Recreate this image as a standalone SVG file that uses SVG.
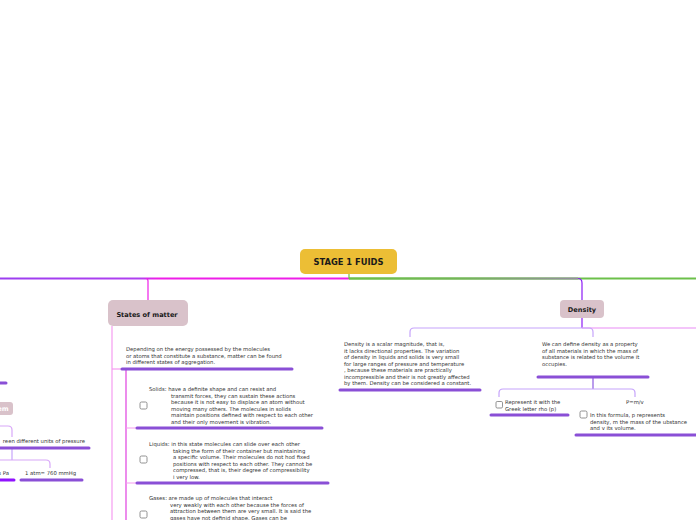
<svg xmlns="http://www.w3.org/2000/svg" width="696" height="520" viewBox="0 0 696 520">
<style>
.t{font-family:"DejaVu Sans",Verdana,sans-serif;font-size:5.3px;fill:#333}
.b{font-family:"DejaVu Sans",Verdana,sans-serif;font-weight:bold;fill:#1a1a1a;text-anchor:middle}
.u{stroke:#8a4fd6;stroke-width:3;stroke-linecap:round;fill:none}
.c{fill:none;stroke-width:1.2}
.cb{fill:#fff;stroke:#777;stroke-width:0.8}
.sub{fill:#d9c2ca}
</style>
<defs>
<linearGradient id="gl" gradientUnits="userSpaceOnUse" x1="0" y1="0" x2="349" y2="0"><stop offset="0" stop-color="#9b3df0"/><stop offset="0.4" stop-color="#b040f0"/><stop offset="0.45" stop-color="#ee1ee8"/><stop offset="1" stop-color="#ee1ee8"/></linearGradient>
<linearGradient id="gr" gradientUnits="userSpaceOnUse" x1="349" y1="0" x2="578" y2="0"><stop offset="0" stop-color="#6cc04a"/><stop offset="0.5" stop-color="#74b45a"/><stop offset="1" stop-color="#958da0"/></linearGradient>
</defs>
<g id="connectors">
<line x1="0" y1="278.5" x2="349" y2="278.5" stroke="url(#gl)" stroke-width="2"/>
<line x1="349" y1="278.5" x2="696" y2="278.5" stroke="#6cc04a" stroke-width="2"/>
<line x1="349" y1="278.5" x2="578" y2="278.5" stroke="url(#gr)" stroke-width="2"/>
<line x1="349" y1="273" x2="349" y2="279" stroke="#6cc04a" stroke-width="1.2"/>
<path class="c" d="M146 278.5 Q148 278.5 148 281 L148 300" stroke="#ee1ee8"/>
<path class="c" d="M578 278.5 Q582 278.5 582 283 L582 300" stroke="#8c1cf5"/>
<path class="c" d="M112 326 L112 520" stroke="#f59cf0"/>
<path class="c" d="M112 369 L121 369" stroke="#f59cf0"/>
<path class="c" d="M126 369 L126 520" stroke="#e040e0"/>
<path class="c" d="M126 428 L136 428 M126 483 L136 483" stroke="#f59cf0"/>
<path class="c" d="M582 318 L582 328" stroke="#8c1cf5"/>
<path class="c" d="M582 328 L696 328" stroke="#ea8cf5"/>
<path class="c" d="M582 328 L414 328 Q410 328 410 332 L410 337 M582 328 L589 328 Q593 328 593 332 L593 337" stroke="#c6a4fb"/>
<path class="c" d="M593 377 L593 389" stroke="#8c5ae0"/>
<path class="c" d="M503 389 Q499 389 499 393 L499 397 M503 389 L631 389 Q635 389 635 393 L635 397" stroke="#c6a4fb"/>
<path class="c" d="M0 426 L8 426 Q12 426 12 430 L12 437" stroke="#d8a8f8"/>
<path class="c" d="M12 448 L12 460" stroke="#c6a4fb"/>
<path class="c" d="M0 460 L46 460 Q50 460 50 464 L50 468" stroke="#d8a8f8"/>
</g>
<g id="central">
<rect x="300" y="249" width="97" height="25" rx="5" fill="#ecbe35"/>
<text class="b" x="348.5" y="265" font-size="8.3">STAGE 1 FUIDS</text>
</g>
<g id="states">
<rect class="sub" x="108" y="300" width="80" height="26" rx="5"/>
<text class="b" x="147" y="316.5" font-size="6.6">States of matter</text>
</g>
<g id="states-desc">
<text class="t" x="126" y="351">Depending on the energy possessed by the molecules</text>
<text class="t" x="126" y="357.5">or atoms that constitute a substance, matter can be found</text>
<text class="t" x="126" y="364">in different states of aggregation.</text>
<line class="u" x1="122" y1="369" x2="292" y2="369"/>
</g>
<g id="solids">
<rect class="cb" x="140" y="402" width="7" height="7" rx="1.5"/>
<text class="t" x="149" y="391">Solids: have a definite shape and can resist and</text>
<text class="t" x="171" y="397.5">transmit forces, they can sustain these actions</text>
<text class="t" x="171" y="404">because it is not easy to displace an atom without</text>
<text class="t" x="171" y="410.5">moving many others. The molecules in solids</text>
<text class="t" x="171" y="417">maintain positions defined with respect to each other</text>
<text class="t" x="171" y="423.5">and their only movement is vibration.</text>
<line class="u" x1="137" y1="428" x2="322" y2="428"/>
</g>
<g id="liquids">
<rect class="cb" x="140" y="456" width="7" height="7" rx="1.5"/>
<text class="t" x="149" y="446">Liquids: in this state molecules can slide over each other</text>
<text class="t" x="173" y="452.5">taking the form of their container but maintaining</text>
<text class="t" x="173" y="459">a specific volume. Their molecules do not hod fixed</text>
<text class="t" x="173" y="465.5">positions with respect to each other. They cannot be</text>
<text class="t" x="173" y="472">compressed, that is, their degree of compressibility</text>
<text class="t" x="173" y="478.5">i very low.</text>
<line class="u" x1="137" y1="483" x2="328" y2="483"/>
</g>
<g id="gases">
<rect class="cb" x="140" y="511" width="7" height="7" rx="1.5"/>
<text class="t" x="149" y="500">Gases: are made up of molecules that interact</text>
<text class="t" x="170" y="506.5">very weakly with each other because the forces of</text>
<text class="t" x="170" y="513">attraction between them are very small. It is said the</text>
<text class="t" x="170" y="519.5">gases have not definid shape. Gases can be</text>
</g>
<g id="density">
<rect class="sub" x="560" y="300" width="44" height="18" rx="4"/>
<text class="b" x="582" y="311.5" font-size="6.6">Density</text>
</g>
<g id="density-desc1">
<text class="t" x="344" y="346">Density is a scalar magnitude, that is,</text>
<text class="t" x="344" y="352.5">it lacks directional properties. The variation</text>
<text class="t" x="344" y="359">of density in liquids and solids is very small</text>
<text class="t" x="344" y="365.5">for large ranges of pressure and temperature</text>
<text class="t" x="344" y="372">, because these materials are practically</text>
<text class="t" x="344" y="378.5">incompressible and their is not greatly affected</text>
<text class="t" x="344" y="385">by them. Density can be considered a constant.</text>
<line class="u" x1="340" y1="390" x2="480" y2="390"/>
</g>
<g id="density-desc2">
<text class="t" x="542" y="346">We can define density as a property</text>
<text class="t" x="542" y="352.5">of all materials in which the mass of</text>
<text class="t" x="542" y="359">substance is related to the volume it</text>
<text class="t" x="542" y="365.5">occupies.</text>
<line class="u" x1="538" y1="377" x2="648" y2="377"/>
</g>
<g id="rho">
<rect class="cb" x="496" y="401.5" width="6.5" height="6.5" rx="1.2"/>
<text class="t" x="505" y="404">Represent it with the</text>
<text class="t" x="505" y="410.5">Greek letter rho (p)</text>
<line class="u" x1="491" y1="415" x2="568" y2="415"/>
</g>
<g id="formula">
<text class="t" x="626" y="404">P=m/v</text>
<rect class="cb" x="580" y="411" width="7" height="7" rx="1.5"/>
<text class="t" x="590" y="417">In this formula, p represents</text>
<text class="t" x="590" y="423.5">density, m the mass of the ubstance</text>
<text class="t" x="590" y="430">and v its volume.</text>
<line class="u" x1="576" y1="435" x2="696" y2="435"/>
</g>
<g id="left-partial">
<line class="u" x1="0" y1="383" x2="6" y2="383"/>
<rect class="sub" x="-20" y="402" width="33" height="13" rx="3"/>
<text class="b" x="3" y="411" font-size="6.6" style="fill:#fff">em</text>
<text class="t" x="85" y="443" text-anchor="end">reen different units of pressure</text>
<line class="u" x1="0" y1="448" x2="89" y2="448"/>
<text class="t" x="9" y="475" text-anchor="end">s Pa</text>
<line class="u" x1="0" y1="480" x2="14" y2="480" style="stroke:#9013fe"/>
<text class="t" x="25" y="475">1 atm= 760 mmHg</text>
<line class="u" x1="21" y1="480" x2="82" y2="480"/>
</g>
</svg>
